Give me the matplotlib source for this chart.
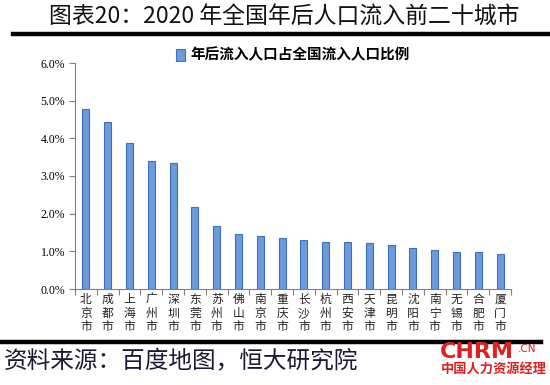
import matplotlib
matplotlib.use("Agg")
import matplotlib.pyplot as plt
from matplotlib.lines import Line2D
from matplotlib.ticker import FuncFormatter, MultipleLocator

plt.rcParams['font.family'] = ['Noto Sans CJK SC', 'DejaVu Sans']

cities = ["北京市", "成都市", "上海市", "广州市", "深圳市", "东莞市", "苏州市", "佛山市",
          "南京市", "重庆市", "长沙市", "杭州市", "西安市", "天津市", "昆明市", "沈阳市",
          "南宁市", "无锡市", "合肥市", "厦门市"]
share = [4.79, 4.44, 3.88, 3.39, 3.34, 2.19, 1.67, 1.46, 1.41, 1.36,
         1.30, 1.25, 1.24, 1.22, 1.17, 1.09, 1.04, 0.99, 0.99, 0.94]
series_name = "年后流入人口占全国流入人口比例"
title = "图表20：2020 年全国年后人口流入前二十城市"
source = "资料来源：百度地图，恒大研究院"

W, H = 550, 385
fig = plt.figure(figsize=(W / 100, H / 100), dpi=100)
ax = fig.add_axes([75 / W, 1 - 289 / H, (511 - 75) / W, (289 - 63) / H])

x = list(range(len(cities)))
ax.bar(x, share, width=0.32, color="#6d9ad8", edgecolor="#3b6fc2", linewidth=0.8,
       label=series_name, zorder=2)

ax.set_xlim(-0.5, len(cities) - 0.5)
ax.set_ylim(0, 6.0)
ax.yaxis.set_major_locator(MultipleLocator(1.0))
ax.yaxis.set_major_formatter(FuncFormatter(lambda v, p: f"{v:.1f}%"))
for lab in ax.get_yticklabels():
    lab.set_fontfamily(["Liberation Serif", "DejaVu Serif"])
    lab.set_fontsize(8.5)
ax.tick_params(axis='y', direction='out', length=4, color="#808080", pad=3)

ax.set_xticks([i - 0.5 for i in range(len(cities) + 1)], minor=False)
ax.set_xticklabels([])
ax.tick_params(axis='x', which='major', direction='out', length=4, color="#808080")
ax.set_xticks(x, minor=True)
ax.set_xticklabels(["\n".join(c) for c in cities], minor=True, fontsize=8.5,
                   linespacing=1.05, color="#222222", va='top')
ax.tick_params(axis='x', which='minor', length=0, pad=3)

for s in ["top", "right"]:
    ax.spines[s].set_visible(False)
ax.spines["left"].set_color("#808080")
ax.spines["bottom"].set_color("#808080")

leg = ax.legend(loc='upper center', bbox_to_anchor=(0.5, 1.13), frameon=False,
                prop={'size': 10.5, 'weight': 'bold'}, handlelength=0.6, handleheight=0.9,
                handletextpad=0.4)

fig.text(284 / W, 1 - 17 / H, title, ha='center', va='center', fontsize=16.5,
         fontweight='light', color="#111111")
fig.add_artist(Line2D([13 / W, 1.0], [1 - 34 / H, 1 - 34 / H], color="black", lw=3.2,
                      transform=fig.transFigure))
fig.add_artist(Line2D([0.0, 541 / W], [1 - 342 / H, 1 - 342 / H], color="black", lw=3.2,
                      transform=fig.transFigure))
fig.text(4 / W, 1 - 362 / H, source, ha='left', va='center', fontsize=17, style='italic',
         fontweight='light', color="#1a1a33")
fig.text(440 / W, 1 - 352 / H, "CHRM", ha='left', va='center', fontsize=16,
         fontweight='bold', color="#e02020", family=["DejaVu Sans"])
fig.text(518 / W, 1 - 349 / H, ".CN", ha='left', va='center', fontsize=7.5,
         color="#e02020", family=["DejaVu Sans"])
fig.text(441 / W, 1 - 370 / H, "中国人力资源经理", ha='left', va='center', fontsize=9.5,
         fontweight='bold', color="#e02020")

fig.savefig("out.png", dpi=100)
